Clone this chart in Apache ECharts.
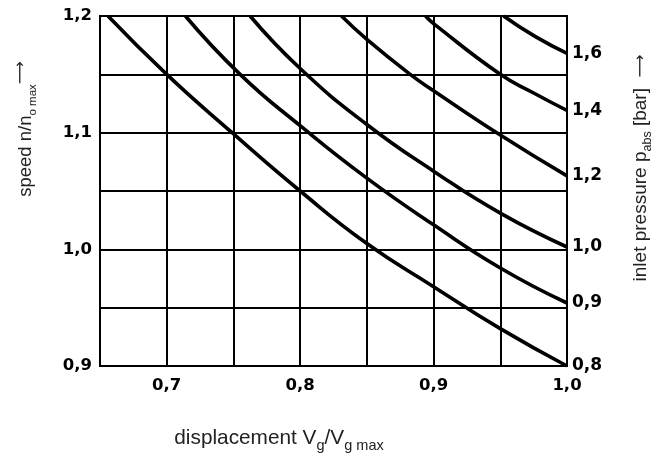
<!DOCTYPE html>
<html>
<head>
<meta charset="utf-8">
<script src="https://cdn.jsdelivr.net/npm/echarts@6/dist/echarts.min.js"></script>
<style>
html,body{margin:0;padding:0;background:#fff;}
#chart{width:672px;height:460px;}
</style>
</head>
<body>
<div id="chart"></div>
<script>
// ---- data ----
const pressureLabels = ['0,8', '0,9', '1,0', '1,2', '1,4', '1,6'];
const curve08 = [[0.656,1.2],[0.7,1.15],[0.749,1.1],[0.8,1.05],[0.85,1.005],[0.9,0.968],[0.95,0.932],[1.0,0.9]];
const curve09 = [[0.714,1.2],[0.755,1.15],[0.8,1.106],[0.85,1.061],[0.9,1.021],[0.95,0.984],[1.0,0.954]];
const curve10 = [[0.7625,1.2],[0.8,1.155],[0.85,1.107],[0.9,1.067],[0.95,1.031],[1.0,1.002]];
const curve12 = [[0.831,1.2],[0.85,1.18],[0.8825,1.15],[0.9,1.136],[0.95,1.098],[1.0,1.063]];
const curve14 = [[0.894,1.2],[0.9,1.1935],[0.95,1.15],[0.975,1.134],[1.0,1.119]];
const curve16 = [[0.9525,1.2],[0.976,1.1825],[1.0,1.168]];
const curves = [curve08, curve09, curve10, curve12, curve14, curve16];

const xRange = [0.65, 1.0];
const yRange = [0.9, 1.2];
const step = 0.05;

function fmt(v) {
  const t = v * 10;
  if (Math.abs(t - Math.round(t)) > 1e-6) return '';
  return v.toFixed(1).replace('.', ',');
}

const labelFont = { color: '#000', fontFamily: 'DejaVu Sans', fontWeight: 'bold', fontSize: 16.5 };
const titleFont = 'Liberation Sans';
const tColor = '#222';

const chart = echarts.init(document.getElementById('chart'), null, { renderer: 'canvas' });
chart.setOption({
  animation: false,
  backgroundColor: '#fff',
  grid: { left: 100, right: 105, top: 16, bottom: 94, show: true, borderColor: '#000', borderWidth: 2 },
  xAxis: {
    type: 'value', min: xRange[0], max: xRange[1], interval: step,
    axisLine: { show: true, lineStyle: { color: '#000', width: 2 } },
    axisTick: { show: false },
    splitLine: { show: true, lineStyle: { color: '#000', width: 2 } },
    axisLabel: Object.assign({ margin: 11, formatter: (v) => (v < 0.66 ? '' : fmt(v)), showMinLabel: true, showMaxLabel: true }, labelFont)
  },
  yAxis: {
    type: 'value', min: yRange[0], max: yRange[1], interval: step,
    axisLine: { show: true, lineStyle: { color: '#000', width: 2 } },
    axisTick: { show: false },
    splitLine: { show: true, lineStyle: { color: '#000', width: 2 } },
    axisLabel: Object.assign({ margin: 8, formatter: fmt }, labelFont)
  },
  series: curves.map((c, i) => ({
    type: 'line',
    data: c,
    smooth: 0.5,
    symbol: 'none',
    lineStyle: { color: '#000', width: 3.6 },
    endLabel: Object.assign({ show: true, distance: 5, formatter: () => pressureLabels[i] }, labelFont, { fontSize: 17 })
  })),
  graphic: [
    {
      type: 'text', x: 279, y: 438,
      style: {
        text: '{m|displacement V}{s|g}{m|/V}{s|g max}',
        align: 'center', verticalAlign: 'middle',
        rich: {
          m: { fontFamily: titleFont, fontSize: 20.8, fill: tColor, color: tColor, lineHeight: 30, verticalAlign: 'middle' },
          s: { fontFamily: titleFont, fontSize: 14.5, fill: tColor, color: tColor, lineHeight: 30, verticalAlign: 'bottom' }
        }
      }
    },
    {
      type: 'text', x: 26, y: 129, rotation: Math.PI / 2,
      style: {
        text: '{m|speed n/n}{s|o max}{a|⟶}',
        align: 'center', verticalAlign: 'middle',
        rich: {
          m: { fontFamily: titleFont, fontSize: 18.5, fill: tColor, color: tColor, lineHeight: 26, verticalAlign: 'middle' },
          s: { fontFamily: titleFont, fontSize: 11.5, fill: tColor, color: tColor, lineHeight: 26, verticalAlign: 'bottom' },
          a: { fontFamily: 'DejaVu Sans', fontSize: 16, fill: tColor, color: tColor, lineHeight: 26, verticalAlign: 'top' }
        }
      }
    },
    {
      type: 'text', x: 641, y: 168, rotation: Math.PI / 2,
      style: {
        text: '{m|inlet pressure p}{s|abs}{m| [bar]  }{a|⟶}',
        align: 'center', verticalAlign: 'middle',
        rich: {
          m: { fontFamily: titleFont, fontSize: 19, fill: tColor, color: tColor, lineHeight: 26, verticalAlign: 'middle' },
          s: { fontFamily: titleFont, fontSize: 12.5, fill: tColor, color: tColor, lineHeight: 26, verticalAlign: 'bottom' },
          a: { fontFamily: 'DejaVu Sans', fontSize: 16, fill: tColor, color: tColor, lineHeight: 26, verticalAlign: 'middle' }
        }
      }
    }
  ]
});
</script>
</body>
</html>
